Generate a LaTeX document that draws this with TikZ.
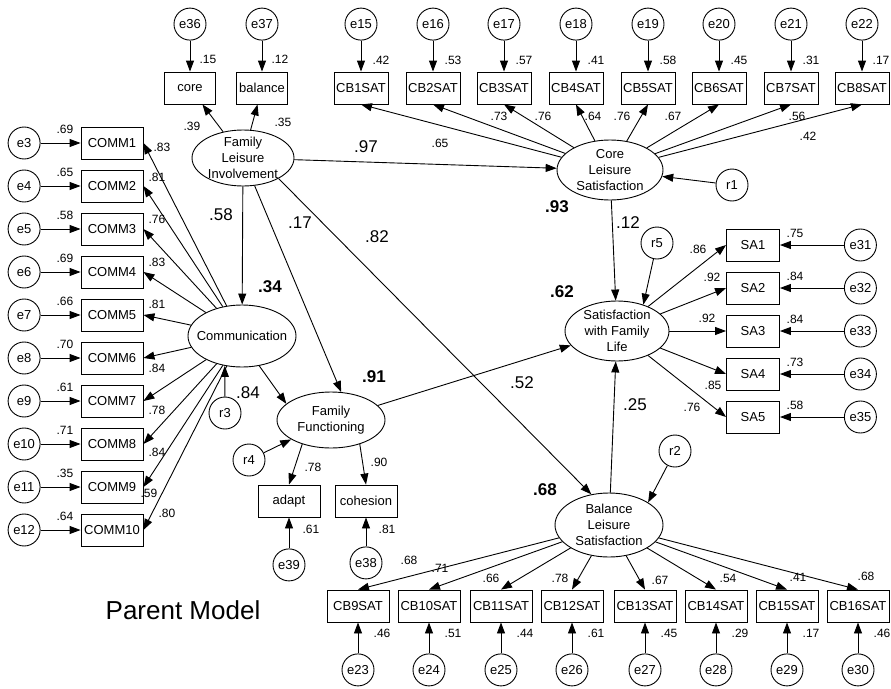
\documentclass[tikz,border=0pt]{standalone}
\usepackage{fontspec}
\setmainfont{Liberation Sans}
\usepackage{tikz}
\usetikzlibrary{shapes,arrows,arrows.meta,positioning}
\tikzstyle{latent}=[ellipse,draw=black,line width=0.9pt,inner sep=-20pt,align=center,font=\fontsize{13}{15.7}\selectfont]
\tikzstyle{manifest}=[rectangle,draw=black,line width=0.9pt,inner sep=0pt,minimum height=32pt,font=\fontsize{13}{15}\selectfont]
\tikzstyle{errvar}=[circle,draw=black,line width=0.9pt,inner sep=0pt,minimum size=32pt,font=\fontsize{13}{15}\selectfont]
\tikzstyle{coef}=[-{Triangle[length=11pt,width=8pt]},line width=0.9pt]
\tikzstyle{est}=[inner sep=0pt,font=\fontsize{12}{14}\selectfont]
\tikzstyle{bigest}=[inner sep=0pt,font=\fontsize{17}{19}\selectfont]
\tikzstyle{rsq}=[inner sep=0pt,font=\bfseries\fontsize{17}{19}\selectfont]

\begin{document}
\begin{tikzpicture}[x=1pt,y=-1pt]
    \useasboundingbox (0,0) rectangle (891,688);

    % latente Variablen
    \node[latent,minimum width=102pt,minimum height=56pt] (fli) at (243,158) {Family\\Leisure\\Involvement};
    \node[latent,minimum width=108pt,minimum height=62pt] (com) at (242,336) {Communication};
    \node[latent,minimum width=108pt,minimum height=56pt] (ff) at (331,420) {Family\\Functioning};
    \node[latent,minimum width=106pt,minimum height=60pt] (cls) at (610,170) {Core\\Leisure\\Satisfaction};
    \node[latent,minimum width=104pt,minimum height=60pt] (sfl) at (617,331) {Satisfaction\\with Family\\Life};
    \node[latent,minimum width=108pt,minimum height=64pt] (bls) at (609,525) {Balance\\Leisure\\Satisfaction};

    % Residuen
    \node[errvar] (r1) at (732,185) {r1};
    \node[errvar] (r2) at (675,451) {r2};
    \node[errvar] (r3) at (225,413) {r3};
    \node[errvar] (r4) at (249,460) {r4};
    \node[errvar] (r5) at (657,243) {r5};

    % Indikatoren Family Leisure Involvement
    \node[manifest,minimum width=51pt] (core) at (190,88) {core};
    \node[manifest,minimum width=51pt] (balance) at (262,88) {balance};
    \node[errvar] (e36) [above=31pt of core] {e36};
    \node[errvar] (e37) [above=31pt of balance] {e37};

    % Indikatoren Communication
    \node[manifest,minimum width=62pt] (comm1) at (112,143) {COMM1};
    \node[manifest,minimum width=62pt] (comm2) at (112,186) {COMM2};
    \node[manifest,minimum width=62pt] (comm3) at (112,229) {COMM3};
    \node[manifest,minimum width=62pt] (comm4) at (112,272) {COMM4};
    \node[manifest,minimum width=62pt] (comm5) at (112,315) {COMM5};
    \node[manifest,minimum width=62pt] (comm6) at (112,358) {COMM6};
    \node[manifest,minimum width=62pt] (comm7) at (112,401) {COMM7};
    \node[manifest,minimum width=62pt] (comm8) at (112,444) {COMM8};
    \node[manifest,minimum width=62pt] (comm9) at (112,487) {COMM9};
    \node[manifest,minimum width=62pt] (comm10) at (112,530) {COMM10};
    \node[errvar] (e3) [left=40pt of comm1] {e3};
    \node[errvar] (e4) [left=40pt of comm2] {e4};
    \node[errvar] (e5) [left=40pt of comm3] {e5};
    \node[errvar] (e6) [left=40pt of comm4] {e6};
    \node[errvar] (e7) [left=40pt of comm5] {e7};
    \node[errvar] (e8) [left=40pt of comm6] {e8};
    \node[errvar] (e9) [left=40pt of comm7] {e9};
    \node[errvar] (e10) [left=40pt of comm8] {e10};
    \node[errvar] (e11) [left=40pt of comm9] {e11};
    \node[errvar] (e12) [left=40pt of comm10] {e12};

    % Indikatoren Family Functioning
    \node[manifest,minimum width=62pt] (adapt) at (289,501) {adapt};
    \node[manifest,minimum width=62pt] (cohesion) at (366,501) {cohesion};
    \node[errvar] (e39) [below=31pt of adapt] {e39};
    \node[errvar] (e38) [below=29pt of cohesion] {e38};

    % Indikatoren Core Leisure Satisfaction
    \node[manifest,minimum width=54pt] (cb1) at (361,88) {CB1SAT};
    \node[manifest,minimum width=54pt] (cb2) at (433,88) {CB2SAT};
    \node[manifest,minimum width=54pt] (cb3) at (504,88) {CB3SAT};
    \node[manifest,minimum width=54pt] (cb4) at (576,88) {CB4SAT};
    \node[manifest,minimum width=54pt] (cb5) at (648,88) {CB5SAT};
    \node[manifest,minimum width=54pt] (cb6) at (719,88) {CB6SAT};
    \node[manifest,minimum width=54pt] (cb7) at (791,88) {CB7SAT};
    \node[manifest,minimum width=54pt] (cb8) at (862,88) {CB8SAT};
    \node[errvar] (e15) [above=31pt of cb1] {e15};
    \node[errvar] (e16) [above=31pt of cb2] {e16};
    \node[errvar] (e17) [above=31pt of cb3] {e17};
    \node[errvar] (e18) [above=31pt of cb4] {e18};
    \node[errvar] (e19) [above=31pt of cb5] {e19};
    \node[errvar] (e20) [above=31pt of cb6] {e20};
    \node[errvar] (e21) [above=31pt of cb7] {e21};
    \node[errvar] (e22) [above=31pt of cb8] {e22};

    % Indikatoren Satisfaction with Family Life
    \node[manifest,minimum width=53pt] (sa1) at (753,245) {SA1};
    \node[manifest,minimum width=53pt] (sa2) at (753,288) {SA2};
    \node[manifest,minimum width=53pt] (sa3) at (753,331) {SA3};
    \node[manifest,minimum width=53pt] (sa4) at (753,374) {SA4};
    \node[manifest,minimum width=53pt] (sa5) at (753,417) {SA5};
    \node[errvar] (e31) [right=64pt of sa1] {e31};
    \node[errvar] (e32) [right=64pt of sa2] {e32};
    \node[errvar] (e33) [right=64pt of sa3] {e33};
    \node[errvar] (e34) [right=64pt of sa4] {e34};
    \node[errvar] (e35) [right=64pt of sa5] {e35};

    % Indikatoren Balance Leisure Satisfaction
    \node[manifest,minimum width=62pt] (cb9) at (358,606) {CB9SAT};
    \node[manifest,minimum width=62pt] (cb10) at (429,606) {CB10SAT};
    \node[manifest,minimum width=62pt] (cb11) at (501,606) {CB11SAT};
    \node[manifest,minimum width=62pt] (cb12) at (572,606) {CB12SAT};
    \node[manifest,minimum width=62pt] (cb13) at (645,606) {CB13SAT};
    \node[manifest,minimum width=62pt] (cb14) at (716,606) {CB14SAT};
    \node[manifest,minimum width=62pt] (cb15) at (787,606) {CB15SAT};
    \node[manifest,minimum width=62pt] (cb16) at (858,606) {CB16SAT};
    \node[errvar] (e23) [below=31pt of cb9] {e23};
    \node[errvar] (e24) [below=31pt of cb10] {e24};
    \node[errvar] (e25) [below=31pt of cb11] {e25};
    \node[errvar] (e26) [below=31pt of cb12] {e26};
    \node[errvar] (e27) [below=31pt of cb13] {e27};
    \node[errvar] (e28) [below=31pt of cb14] {e28};
    \node[errvar] (e29) [below=31pt of cb15] {e29};
    \node[errvar] (e30) [below=31pt of cb16] {e30};

    % Strukturpfade
    \draw [coef] (fli) -- (cls);
    \draw [coef] (fli) -- (com);
    \draw [coef] (fli) -- (ff.70);
    \draw [coef] (fli.-30) -- (bls.120);
    \draw [coef] (com.300) -- (ff.160);
    \draw [coef] (ff) -- (sfl);
    \draw [coef] (cls) -- (sfl);
    \draw [coef] (bls) -- (sfl);
    \draw [coef] (r1) -- (cls);
    \draw [coef] (r2) -- (bls.30);
    \draw [coef] (r3) -- (com.240);
    \draw [coef] (r4) -- (ff);
    \draw [coef] (r5) -- (sfl.45);

    % Messmodelle
    \draw [coef] (fli) -- (core);
    \draw [coef] (fli) -- (balance);
    \draw [coef] (e36) -- (core);
    \draw [coef] (e37) -- (balance);
    \draw [coef] (com) -- (comm1.east);
    \draw [coef] (com) -- (comm2.east);
    \draw [coef] (com) -- (comm3.east);
    \draw [coef] (com) -- (comm4.east);
    \draw [coef] (com) -- (comm5.east);
    \draw [coef] (com) -- (comm6.east);
    \draw [coef] (com) -- (comm7.east);
    \draw [coef] (com) -- (comm8.east);
    \draw [coef] (com) -- (comm9.east);
    \draw [coef] (com) -- (comm10.east);
    \draw [coef] (e3) -- (comm1);
    \draw [coef] (e4) -- (comm2);
    \draw [coef] (e5) -- (comm3);
    \draw [coef] (e6) -- (comm4);
    \draw [coef] (e7) -- (comm5);
    \draw [coef] (e8) -- (comm6);
    \draw [coef] (e9) -- (comm7);
    \draw [coef] (e10) -- (comm8);
    \draw [coef] (e11) -- (comm9);
    \draw [coef] (e12) -- (comm10);
    \draw [coef] (ff.220) -- (adapt.north);
    \draw [coef] (ff.-40) -- (cohesion.north);
    \draw [coef] (e39) -- (adapt);
    \draw [coef] (e38) -- (cohesion);
    \draw [coef] (cls) -- (cb1.south);
    \draw [coef] (cls) -- (cb2.south);
    \draw [coef] (cls) -- (cb3.south);
    \draw [coef] (cls) -- (cb4.south);
    \draw [coef] (cls) -- (cb5.south);
    \draw [coef] (cls) -- (cb6.south);
    \draw [coef] (cls) -- (cb7.south);
    \draw [coef] (cls) -- (cb8.south);
    \draw [coef] (e15) -- (cb1);
    \draw [coef] (e16) -- (cb2);
    \draw [coef] (e17) -- (cb3);
    \draw [coef] (e18) -- (cb4);
    \draw [coef] (e19) -- (cb5);
    \draw [coef] (e20) -- (cb6);
    \draw [coef] (e21) -- (cb7);
    \draw [coef] (e22) -- (cb8);
    \draw [coef] (sfl) -- (sa1.west);
    \draw [coef] (sfl) -- (sa2.west);
    \draw [coef] (sfl) -- (sa3.west);
    \draw [coef] (sfl) -- (sa4.west);
    \draw [coef] (sfl) -- (sa5.west);
    \draw [coef] (e31) -- (sa1);
    \draw [coef] (e32) -- (sa2);
    \draw [coef] (e33) -- (sa3);
    \draw [coef] (e34) -- (sa4);
    \draw [coef] (e35) -- (sa5);
    \draw [coef] (bls) -- (cb9.north);
    \draw [coef] (bls) -- (cb10.north);
    \draw [coef] (bls) -- (cb11.north);
    \draw [coef] (bls) -- (cb12.north);
    \draw [coef] (bls) -- (cb13.north);
    \draw [coef] (bls) -- (cb14.north);
    \draw [coef] (bls) -- (cb15.north);
    \draw [coef] (bls) -- (cb16.north);
    \draw [coef] (e23) -- (cb9);
    \draw [coef] (e24) -- (cb10);
    \draw [coef] (e25) -- (cb11);
    \draw [coef] (e26) -- (cb12);
    \draw [coef] (e27) -- (cb13);
    \draw [coef] (e28) -- (cb14);
    \draw [coef] (e29) -- (cb15);
    \draw [coef] (e30) -- (cb16);

    % Schaetzwerte Strukturmodell
    \node[bigest] (p97) at (366,147) {.97};
    \node[bigest] (p58) at (221,215) {.58};
    \node[bigest] (p17) at (300,223) {.17};
    \node[bigest] (p82) at (377,237) {.82};
    \node[bigest] (p12) at (628,223) {.12};
    \node[bigest] (p52) at (522,383) {.52};
    \node[bigest] (p25) at (635,405) {.25};
    \node[bigest] (p84) at (248,393) {.84};
    \node[rsq] (q93) at (557,207) {.93};
    \node[rsq] (q34) at (270,287) {.34};
    \node[rsq] (q62) at (562,292) {.62};
    \node[rsq] (q91) at (374,377) {.91};
    \node[rsq] (q68) at (545,490) {.68};

    % Schaetzwerte Messmodelle
    \node[est] (ve36) at (208,59) {.15};
    \node[est] (ve37) at (280,59) {.12};
    \node[est] (lcore) at (192,126) {.39};
    \node[est] (lbal) at (283,122) {.35};
    \node[est] (ve3) at (65,129) {.69};
    \node[est] (ve4) at (65,172) {.65};
    \node[est] (ve5) at (65,215) {.58};
    \node[est] (ve6) at (65,258) {.69};
    \node[est] (ve7) at (65,301) {.66};
    \node[est] (ve8) at (65,344) {.70};
    \node[est] (ve9) at (65,387) {.61};
    \node[est] (ve10) at (65,430) {.71};
    \node[est] (ve11) at (65,473) {.35};
    \node[est] (ve12) at (65,516) {.64};
    \node[est] (lc1) at (162,147) {.83};
    \node[est] (lc2) at (157,177) {.81};
    \node[est] (lc3) at (157,219) {.76};
    \node[est] (lc4) at (157,262) {.83};
    \node[est] (lc5) at (157,304) {.81};
    \node[est] (lc6) at (157,368) {.84};
    \node[est] (lc7) at (157,410) {.78};
    \node[est] (lc8) at (157,452) {.84};
    \node[est] (lc9) at (149,493) {.59};
    \node[est] (lc10) at (167,513) {.80};
    \node[est] (ladapt) at (313,467) {.78};
    \node[est] (lcoh) at (379,462) {.90};
    \node[est] (ve39) at (311,529) {.61};
    \node[est] (ve38) at (387,529) {.81};
    \node[est] (ve15) at (381,60) {.42};
    \node[est] (ve16) at (453,60) {.53};
    \node[est] (ve17) at (524,60) {.57};
    \node[est] (ve18) at (596,60) {.41};
    \node[est] (ve19) at (668,60) {.58};
    \node[est] (ve20) at (739,60) {.45};
    \node[est] (ve21) at (811,60) {.31};
    \node[est] (ve22) at (881,60) {.17};
    \node[est] (lb1) at (440,143) {.65};
    \node[est] (lb2) at (499,116) {.73};
    \node[est] (lb3) at (543,116) {.76};
    \node[est] (lb4) at (593,116) {.64};
    \node[est] (lb5) at (622,116) {.76};
    \node[est] (lb6) at (673,116) {.67};
    \node[est] (lb7) at (797,116) {.56};
    \node[est] (lb8) at (808,136) {.42};
    \node[est] (ls1) at (698,249) {.86};
    \node[est] (ls2) at (712,277) {.92};
    \node[est] (ls3) at (707,318) {.92};
    \node[est] (ls4) at (713,385) {.85};
    \node[est] (ls5) at (692,407) {.76};
    \node[est] (ve31) at (795,233) {.75};
    \node[est] (ve32) at (795,276) {.84};
    \node[est] (ve33) at (795,319) {.84};
    \node[est] (ve34) at (795,362) {.73};
    \node[est] (ve35) at (795,405) {.58};
    \node[est] (lb9) at (409,560) {.68};
    \node[est] (lb10) at (440,568) {.71};
    \node[est] (lb11) at (491,578) {.66};
    \node[est] (lb12) at (560,578) {.78};
    \node[est] (lb13) at (660,580) {.67};
    \node[est] (lb14) at (728,578) {.54};
    \node[est] (lb15) at (798,577) {.41};
    \node[est] (lb16) at (866,576) {.68};
    \node[est] (ve23) at (382,633) {.46};
    \node[est] (ve24) at (453,633) {.51};
    \node[est] (ve25) at (525,633) {.44};
    \node[est] (ve26) at (596,633) {.61};
    \node[est] (ve27) at (669,633) {.45};
    \node[est] (ve28) at (740,633) {.29};
    \node[est] (ve29) at (811,633) {.17};
    \node[est] (ve30) at (882,633) {.46};

    % Titel
    \node[inner sep=0pt,font=\fontsize{26}{30}\selectfont] (title) at (183,610) {Parent Model};

\end{tikzpicture}
\end{document}
